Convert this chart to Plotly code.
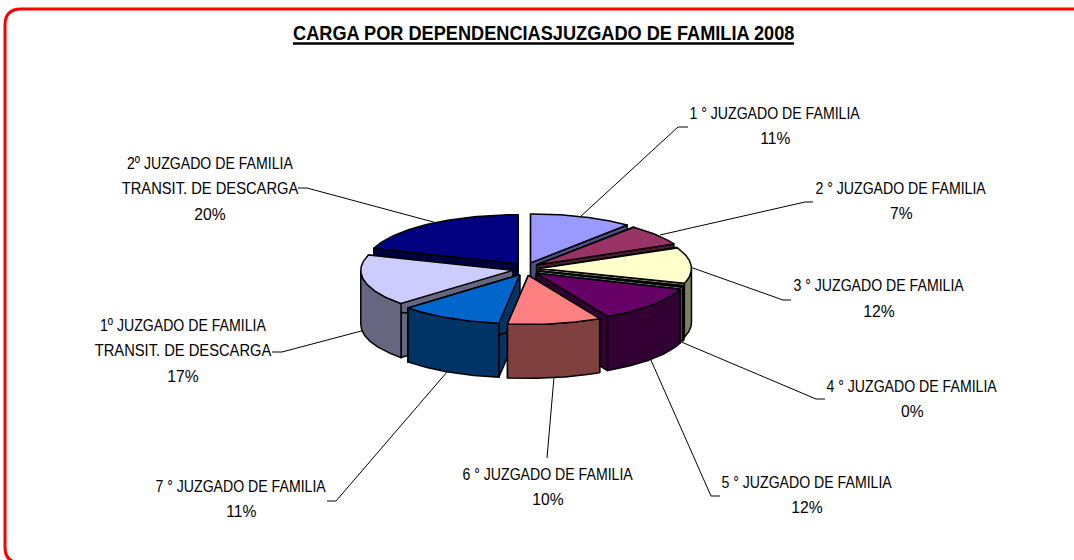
import numpy as np
import plotly.graph_objects as go

# ---- data ----
labels = [
    ["1 ° JUZGADO DE FAMILIA"],
    ["2 ° JUZGADO DE FAMILIA"],
    ["3 ° JUZGADO DE FAMILIA"],
    ["4 ° JUZGADO DE FAMILIA"],
    ["5 ° JUZGADO DE FAMILIA"],
    ["6 ° JUZGADO DE FAMILIA"],
    ["7 ° JUZGADO DE FAMILIA"],
    ["1º JUZGADO DE FAMILIA", "TRANSIT. DE DESCARGA"],
    ["2º JUZGADO DE FAMILIA", "TRANSIT. DE DESCARGA"],
]
values = [11, 7, 12, 0.4, 12, 10, 11, 17, 20]
title = "CARGA POR DEPENDENCIASJUZGADO DE FAMILIA 2008"

top_colors = ["#9999FF", "#993366", "#FFFFCC", "#CCFFFF", "#660066",
              "#FF8080", "#0066CC", "#CCCCFF", "#000080"]
side_colors = ["#4D4D80", "#4D1A33", "#808066", "#668080", "#330033",
               "#804040", "#003366", "#666680", "#000040"]

# ---- layout constants (pixels) ----
W, H = 1074, 560
CX, CY = 526.0, 269.0
RX, RY = 152.0, 49.0
EX, EY = 13.5, 6.5      # explosion offset
DEPTH = 54.0
FONT = "Liberation Sans, Arial, sans-serif"
FS = 17
LINE_H = 25.7

label_pos = [(775, 113), (901, 188), (879, 285.5), (912, 386), (807, 482),
             (548, 474), (241, 486), (183, 325), (210, 163)]
leaders = [
    [(580, 217), (678, 127), (688, 127)],
    [(660, 235), (805, 202), (813, 202)],
    [(690, 267), (783, 300), (791, 300)],
    [(679, 341), (816, 399), (825, 399)],
    [(650, 358), (711, 496), (720, 496)],
    [(554, 377), (547, 458)],
    [(447, 372), (336, 501), (327, 501)],
    [(365, 330), (282, 352), (272, 352)],
    [(437, 223), (307, 188), (298, 188)],
]

fig = go.Figure()


def poly(xs, ys, fill):
    fig.add_trace(go.Scatter(
        x=list(xs), y=list(ys), mode="lines", fill="toself", fillcolor=fill,
        line=dict(color="#000000", width=1.5), hoverinfo="skip", showlegend=False))


total = sum(values)
edges = np.cumsum([0] + values) / total * 360.0
order = sorted(range(len(values)),
               key=lambda i: -np.cos(np.radians((edges[i] + edges[i + 1]) / 2)))

# leader lines behind the pie
for pts in leaders:
    fig.add_trace(go.Scatter(
        x=[p[0] for p in pts], y=[p[1] for p in pts], mode="lines",
        line=dict(color="#000000", width=1), hoverinfo="skip", showlegend=False))

for i in order:
    a0, a1 = edges[i], edges[i + 1]
    mid = np.radians((a0 + a1) / 2)
    ax = CX + EX * np.sin(mid)
    ay = CY - EY * np.cos(mid)

    def rim(deg):
        t = np.radians(deg)
        return ax + RX * np.sin(t), ay - RY * np.cos(t)

    # radial faces
    for a in (a0, a1):
        rx, ry = rim(a)
        poly([ax, rx, rx, ax, ax], [ay, ry, ry + DEPTH, ay + DEPTH, ay], side_colors[i])
    # outer wall (only front half is visible)
    lo, hi = max(a0, 90.0), min(a1, 270.0)
    if hi > lo:
        arc = np.linspace(lo, hi, 50)
        px, py = rim(arc)
        poly(np.r_[px, px[::-1], px[0]], np.r_[py, py[::-1] + DEPTH, py[0]], side_colors[i])
    # top face
    arc = np.linspace(a0, a1, 70)
    px, py = rim(arc)
    poly(np.r_[ax, px, ax], np.r_[ay, py, ay], top_colors[i])

annotations = []
for lab, val, (tx, ty) in zip(labels, values, label_pos):
    rows = lab + [f"{round(val / total * 100)}%"]
    for k, row in enumerate(rows):
        annotations.append(dict(
            x=tx, y=ty + k * LINE_H, xref="x", yref="y", text=row, showarrow=False,
            xanchor="center", yanchor="middle",
            font=dict(family=FONT, size=FS, color="#000000")))
annotations.append(dict(
    x=544, y=32, xref="x", yref="y", text=f"<b>{title}</b>", showarrow=False,
    xanchor="center", yanchor="middle",
    font=dict(family=FONT, size=21, color="#000000")))

shapes = [
    dict(type="line", x0=293, x1=794, y0=43.5, y1=43.5, xref="x", yref="y",
         line=dict(color="#000000", width=2.5)),
    dict(type="path", xref="x", yref="y",
         path="M 1100 9 L 21 9 Q 5 9 5 25 L 5 547 Q 5 563 21 563 L 1100 563",
         line=dict(color="#FF0000", width=3)),
]

fig.update_layout(
    width=W, height=H, margin=dict(l=0, r=0, t=0, b=0),
    paper_bgcolor="#FFFFFF", plot_bgcolor="#FFFFFF", showlegend=False,
    xaxis=dict(range=[0, W], visible=False, fixedrange=True),
    yaxis=dict(range=[H, 0], visible=False, fixedrange=True),
    annotations=annotations, shapes=shapes,
)
condense = """
document.body.style.margin='0';document.body.style.overflow='hidden';
function condense(){
  document.querySelectorAll('text.annotation-text').forEach(function(t){
    if(t.getAttribute('textLength')) return;
    var s = t.textContent, f = 0.83;
    if(s.indexOf('CARGA')===0) f = 0.865;
    else if(s.indexOf('TRANSIT')===0) f = 0.865;
    else if(s.indexOf('%')>=0) f = 0.92;
    t.setAttribute('textLength', t.getComputedTextLength()*f);
    t.setAttribute('lengthAdjust','spacingAndGlyphs');
  });
}
condense();setTimeout(condense,50);setTimeout(condense,300);
"""
fig.write_html("out.html", config={"displayModeBar": False}, post_script=condense)
